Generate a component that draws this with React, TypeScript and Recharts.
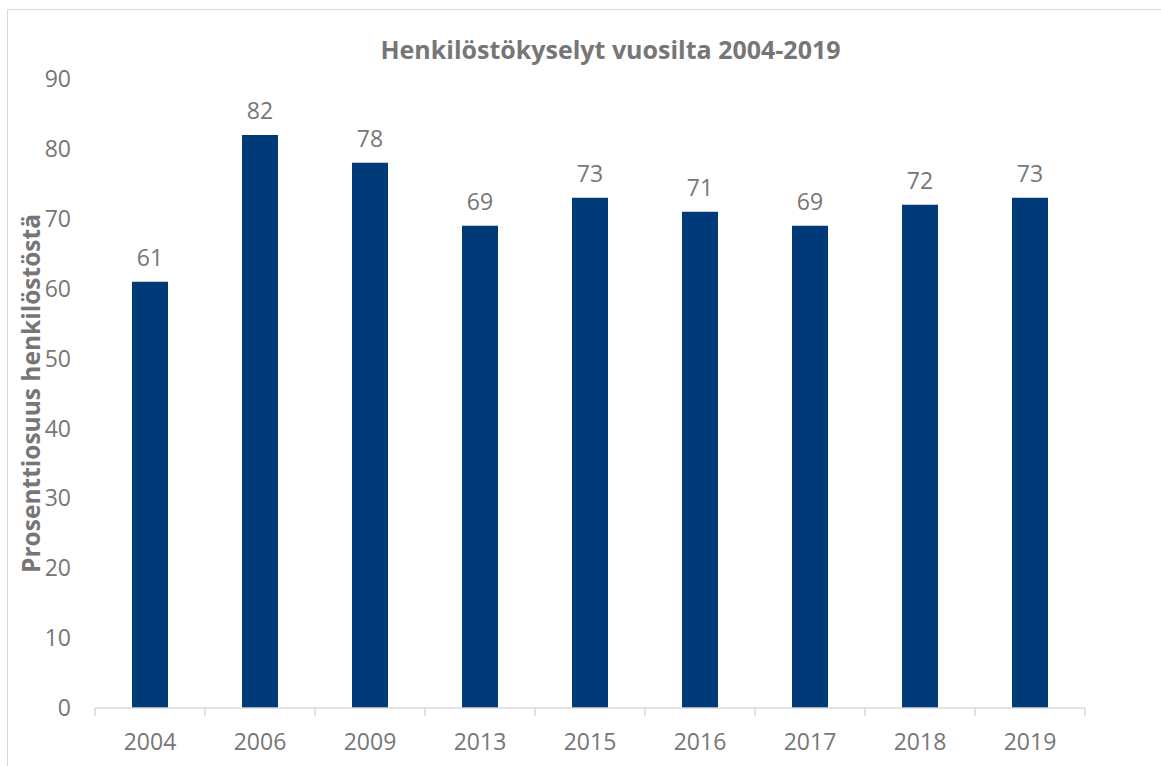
import { BarChart, Bar, XAxis, YAxis, LabelList } from 'recharts';

const YEARS = ['2004', '2006', '2009', '2013', '2015', '2016', '2017', '2018', '2019'];
const SHARE = [61, 82, 78, 69, 73, 71, 69, 72, 73];
const Y_TICKS = [0, 10, 20, 30, 40, 50, 60, 70, 80, 90];

const TEXT = '#767676';
const AXIS = '#d9d9d9';
const BAR = '#003a78';
const FONT = '"Open Sans", "Noto Sans", sans-serif';

const W = 1161;
const H = 766;
const MARGIN = { top: 79, right: 76, bottom: 0, left: 0 };
const Y_WIDTH = 95;
// half of one category band, used for the boundary tick marks
const HALF_BAND = (W - MARGIN.left - MARGIN.right - Y_WIDTH) / YEARS.length / 2;

const data = YEARS.map((year, i) => ({ year, share: SHARE[i] }));

function YearTick(props: any) {
  const { x, y, payload, index, visibleTicksCount } = props;
  const top = y - 26;
  return (
    <g>
      <line x1={x - HALF_BAND} x2={x - HALF_BAND} y1={top} y2={top + 8} stroke={AXIS} strokeWidth={1.5} />
      {index === visibleTicksCount - 1 && (
        <line x1={x + HALF_BAND} x2={x + HALF_BAND} y1={top} y2={top + 8} stroke={AXIS} strokeWidth={1.5} />
      )}
      <text x={x} y={y} dy="0.71em" textAnchor="middle" fill={TEXT} fontSize={23} fontFamily={FONT}>
        {payload.value}
      </text>
    </g>
  );
}

export default function App() {
  return (
    <div style={{ position: 'absolute', left: 0, top: 0, width: W, height: H, background: '#fff', overflow: 'hidden' }}>
      <div
        style={{
          position: 'absolute', left: 7, top: 9, width: W + 20, height: H + 20,
          border: `1.5px solid ${AXIS}`, boxSizing: 'border-box',
        }}
      />
      <div
        style={{
          position: 'absolute', left: 0, top: 32, width: 1221, textAlign: 'center',
          fontFamily: FONT, fontWeight: 700, fontSize: 25, color: TEXT,
        }}
      >
        Henkilöstökyselyt vuosilta 2004-2019
      </div>
      <div style={{ position: 'absolute', left: 0, top: 0 }}>
        <BarChart width={W} height={H} data={data} margin={MARGIN}>
          <XAxis
            dataKey="year"
            height={58}
            axisLine={{ stroke: AXIS, strokeWidth: 1.5 }}
            tickLine={false}
            tickSize={8}
            tickMargin={18}
            tick={<YearTick />}
            interval={0}
          />
          <YAxis
            width={Y_WIDTH}
            domain={[0, 90]}
            ticks={Y_TICKS}
            axisLine={false}
            tickLine={false}
            tickSize={0}
            tickMargin={24}
            tick={{ fill: TEXT, fontSize: 23, fontFamily: FONT }}
            label={{
              value: 'Prosenttiosuus henkilöstöstä',
              angle: -90,
              position: 'insideLeft',
              offset: 0,
              dx: 31,
              fill: TEXT,
              fontSize: 24.5,
              fontWeight: 700,
              fontFamily: FONT,
              style: { textAnchor: 'middle' },
            }}
          />
          <Bar dataKey="share" fill={BAR} barSize={36} isAnimationActive={false}>
            <LabelList
              dataKey="share"
              position="top"
              offset={16}
              fill={TEXT}
              fontSize={23}
              fontFamily={FONT}
            />
          </Bar>
        </BarChart>
      </div>
    </div>
  );
}
